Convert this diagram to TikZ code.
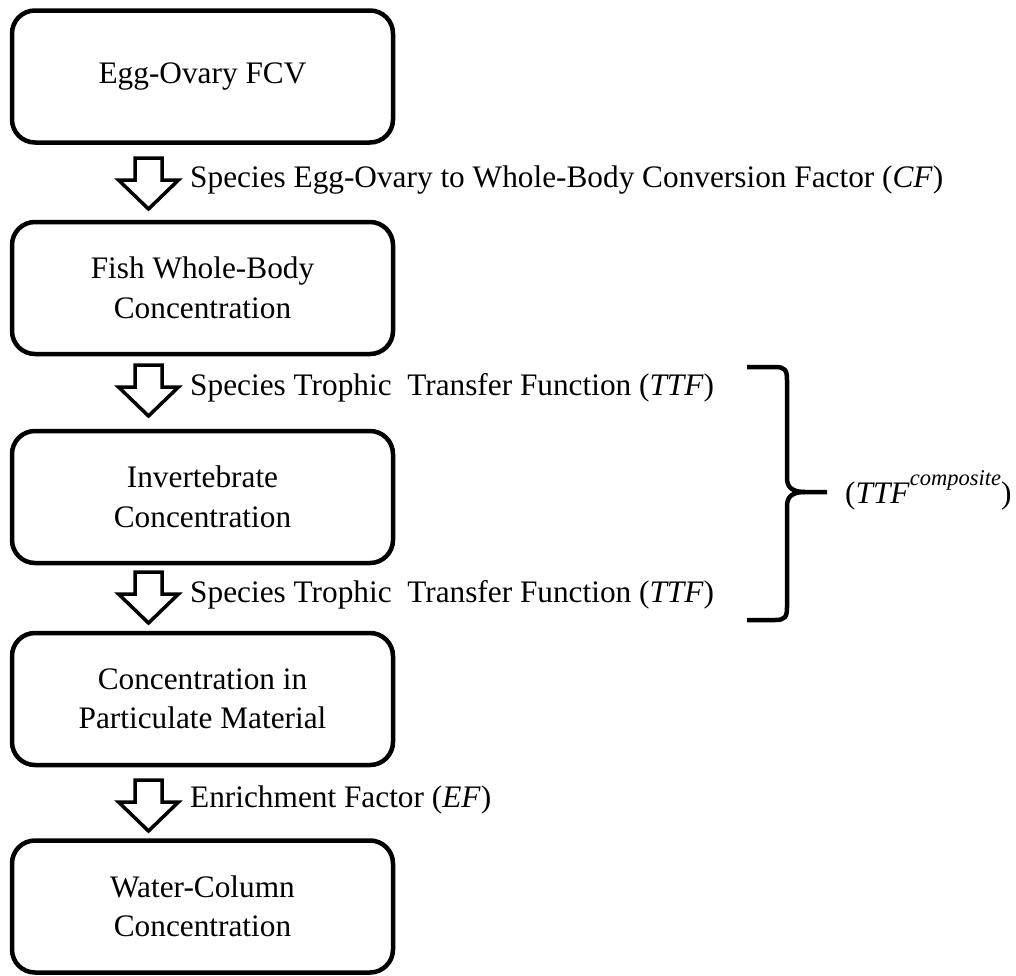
\documentclass[tikz,border=0pt]{standalone}
\usepackage{fontspec}
\setmainfont{Liberation Serif}
\begin{document}
\begin{tikzpicture}[x=1pt,y=-1pt,
  txt/.style={font=\fontsize{31.3}{39.5}\selectfont},
  stagebox/.style={txt,draw=black,line width=4.5pt,rounded corners=23pt,
    minimum width=381pt,minimum height=132pt,align=center,inner sep=0pt},
  steplabel/.style={txt,anchor=base west,inner sep=0pt},
  fatarrow/.style={draw=black,line width=3.5pt,line join=miter,fill=white},
  bracepath/.style={draw=black,line width=4.5pt,line cap=butt}]
\useasboundingbox (0,0) rectangle (1016,975);

% boxes
\node[stagebox] (b1) at (202.5,76.5) {Egg-Ovary FCV};
\node[stagebox] (b2) at (202.5,288) {Fish Whole-Body\\Concentration};
\node[stagebox] (b3) at (202.5,497) {Invertebrate\\Concentration};
\node[stagebox] (b4) at (202.5,699) {Concentration in\\Particulate Material};
\node[stagebox] (b5) at (202.5,906.5) {Water-Column\\Concentration};

% block arrows (top-centre coordinates)
\coordinate (a1) at (148.5,158);
\coordinate (a2) at (148.5,365);
\coordinate (a3) at (148.5,572);
\coordinate (a4) at (148.5,780);
\foreach \a in {a1,a2,a3,a4}{
  \draw[fatarrow] (\a) ++(-13.5,0) -- ++(0,22) -- ++(-16.5,0) -- ++(30,29)
    -- ++(30,-29) -- ++(-16.5,0) -- ++(0,-22) -- cycle;
}

% labels
\node[steplabel] (l1) at (190,187.5) {Species Egg-Ovary to Whole-Body Conversion Factor (\textit{CF})};
\node[steplabel] (l2) at (190,395) {Species Trophic\ \ Transfer Function (\textit{TTF})};
\node[steplabel] (l3) at (190,602) {Species Trophic\ \ Transfer Function (\textit{TTF})};
\node[steplabel] (l4) at (190,807) {Enrichment Factor (\textit{EF})};

% brace
\coordinate (bt) at (747,367);
\coordinate (bm) at (827,492);
\coordinate (bb) at (747,620);
\draw[bracepath] (bt) -- (775,367) .. controls (785,367) and (787,370) .. (787,380)
  -- (787,478) .. controls (787,488) and (793,492) .. (805,492) -- (bm);
\draw[bracepath] (805,492) .. controls (793,492) and (787,496) .. (787,506)
  -- (787,607) .. controls (787,617) and (785,620) .. (775,620) -- (bb);

\node[steplabel] (comp) at (845,503) {(\textit{TTF}\raisebox{18pt}{\fontsize{22.5}{24}\selectfont\itshape composite})};
\end{tikzpicture}
\end{document}
